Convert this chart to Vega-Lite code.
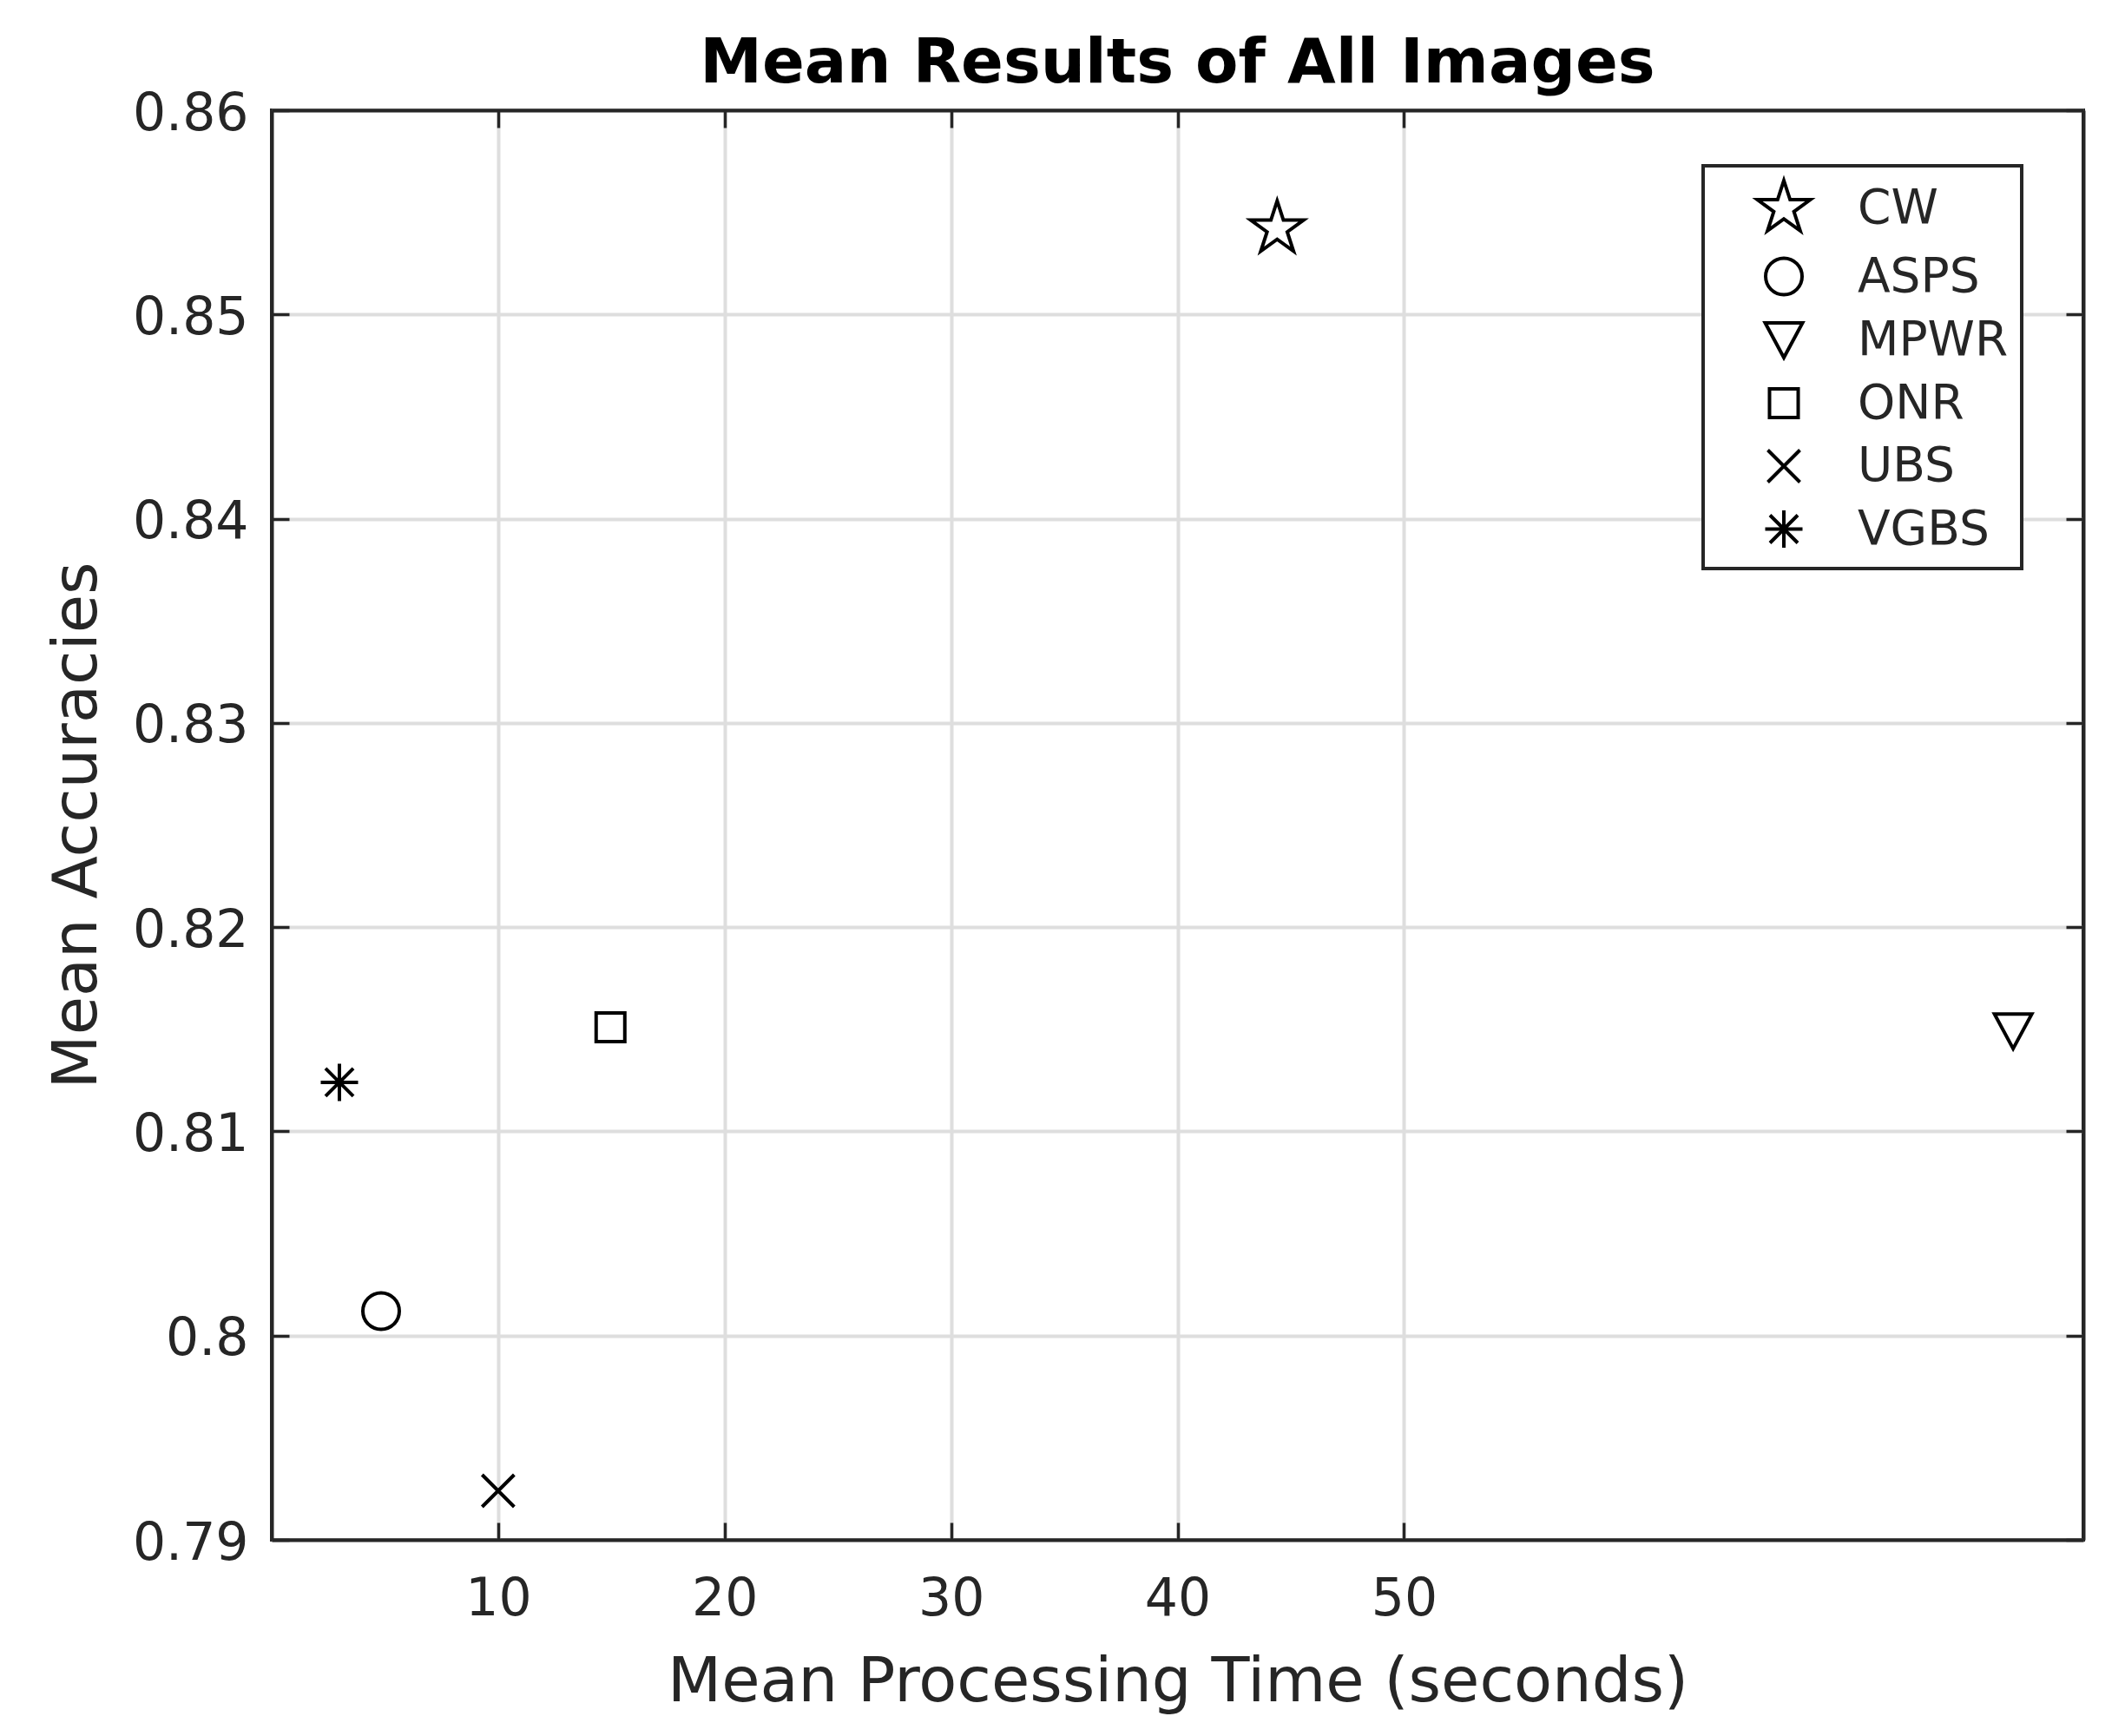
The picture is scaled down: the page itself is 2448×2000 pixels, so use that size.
{
  "$schema": "https://vega.github.io/schema/vega-lite/v6.json",
  "width": 2087,
  "height": 1647,
  "autosize": {"type": "none"},
  "padding": {"left": 313, "top": 127, "right": 48, "bottom": 226},
  "background": "white",
  "title": {
    "text": "Mean Results of All Images",
    "font": "DejaVu Sans",
    "fontSize": 72,
    "fontWeight": "bold",
    "color": "#000000",
    "anchor": "middle",
    "frame": "group",
    "baseline": "alphabetic",
    "offset": -66
  },
  "data": {
    "values": [
      {"method": "CW", "time": 44.4, "accuracy": 0.8542},
      {"method": "ASPS", "time": 4.83, "accuracy": 0.8012},
      {"method": "MPWR", "time": 76.9, "accuracy": 0.8149},
      {"method": "ONR", "time": 14.96, "accuracy": 0.8151},
      {"method": "UBS", "time": 10.0, "accuracy": 0.7924},
      {"method": "VGBS", "time": 2.99, "accuracy": 0.8124}
    ]
  },
  "layer": [
    {
      "mark": {"type": "point", "filled": false, "color": "#000000", "strokeWidth": 4, "size": 4096, "opacity": 1},
      "encoding": {
        "x": {
          "field": "time",
          "type": "quantitative",
          "scale": {"domain": [0, 80], "nice": false, "zero": false},
          "axis": {
            "orient": "bottom",
            "values": [10, 20, 30, 40, 50],
            "format": "d",
            "title": "Mean Processing Time (seconds)",
            "grid": true,
            "labelBaseline": "top",
            "labelPadding": 59,
            "titleBaseline": "alphabetic",
            "titleY": 185
          }
        },
        "y": {
          "field": "accuracy",
          "type": "quantitative",
          "scale": {"domain": [0.79, 0.86], "nice": false, "zero": false},
          "axis": {
            "orient": "left",
            "values": [0.79, 0.8, 0.81, 0.82, 0.83, 0.84, 0.85, 0.86],
            "format": "~g",
            "title": "Mean Accuracies",
            "grid": true,
            "labelPadding": 47,
            "labelOffset": 4,
            "titleAngle": -90,
            "titleBaseline": "alphabetic",
            "titleX": -203,
            "titleY": 823.5,
            "titleAlign": "center"
          }
        },
        "shape": {
          "field": "method",
          "type": "nominal",
          "sort": null,
          "scale": {
            "domain": ["CW", "ASPS", "MPWR", "ONR", "UBS", "VGBS"],
            "range": [
              "M0,-1L0.2245,-0.309L0.9511,-0.309L0.3633,0.118L0.5878,0.809L0,0.382L-0.5878,0.809L-0.3633,0.118L-0.9511,-0.309L-0.2245,-0.309Z",
              "M0.656,0A0.656,0.656,0,1,1,-0.656,0A0.656,0.656,0,1,1,0.656,0Z",
              "M-0.672,-0.625L0.672,-0.625L0,0.625Z",
              "M-0.516,-0.516L0.516,-0.516L0.516,0.516L-0.516,0.516Z",
              "M-0.578,-0.578L0.578,0.578M-0.578,0.578L0.578,-0.578",
              "M-0.672,0L0.672,0M0,-0.672L0,0.672M-0.5,-0.5L0.5,0.5M-0.5,0.5L0.5,-0.5"
            ]
          },
          "legend": {
            "title": null,
            "orient": "none",
            "legendX": 1649,
            "legendY": 64,
            "fillColor": "white",
            "strokeColor": "#262626",
            "padding": 15,
            "symbolOffset": 44,
            "labelOffset": 51,
            "rowPadding": 10.5,
            "labelLimit": 400,
            "labelFont": "DejaVu Sans",
            "labelFontSize": 55,
            "labelColor": "#262626",
            "symbolSize": 4096,
            "symbolStrokeColor": "#000000",
            "symbolStrokeWidth": 4,
            "symbolFillColor": "transparent"
          }
        }
      }
    },
    {
      "mark": {"type": "point", "opacity": 0},
      "encoding": {
        "x": {
          "field": "time",
          "type": "quantitative",
          "axis": {"orient": "top", "values": [10, 20, 30, 40, 50], "labels": false, "title": null, "grid": false}
        },
        "y": {
          "field": "accuracy",
          "type": "quantitative",
          "axis": {"orient": "right", "values": [0.79, 0.8, 0.81, 0.82, 0.83, 0.84, 0.85, 0.86], "labels": false, "title": null, "grid": false}
        }
      }
    }
  ],
  "resolve": {"axis": {"x": "independent", "y": "independent"}},
  "config": {
    "view": {"stroke": "#262626", "strokeWidth": 4},
    "axis": {
      "domain": true,
      "domainColor": "#262626",
      "domainWidth": 4,
      "ticks": true,
      "tickSize": -20,
      "tickColor": "#262626",
      "tickWidth": 3.5,
      "gridColor": "#dedede",
      "gridWidth": 4,
      "labelFont": "DejaVu Sans",
      "labelFontSize": 60,
      "labelColor": "#262626",
      "labelFlush": false,
      "labelOverlap": false,
      "titleFont": "DejaVu Sans",
      "titleFontSize": 72,
      "titleFontWeight": "normal",
      "titleColor": "#262626"
    },
    "legend": {"strokeWidth": 4}
  }
}
